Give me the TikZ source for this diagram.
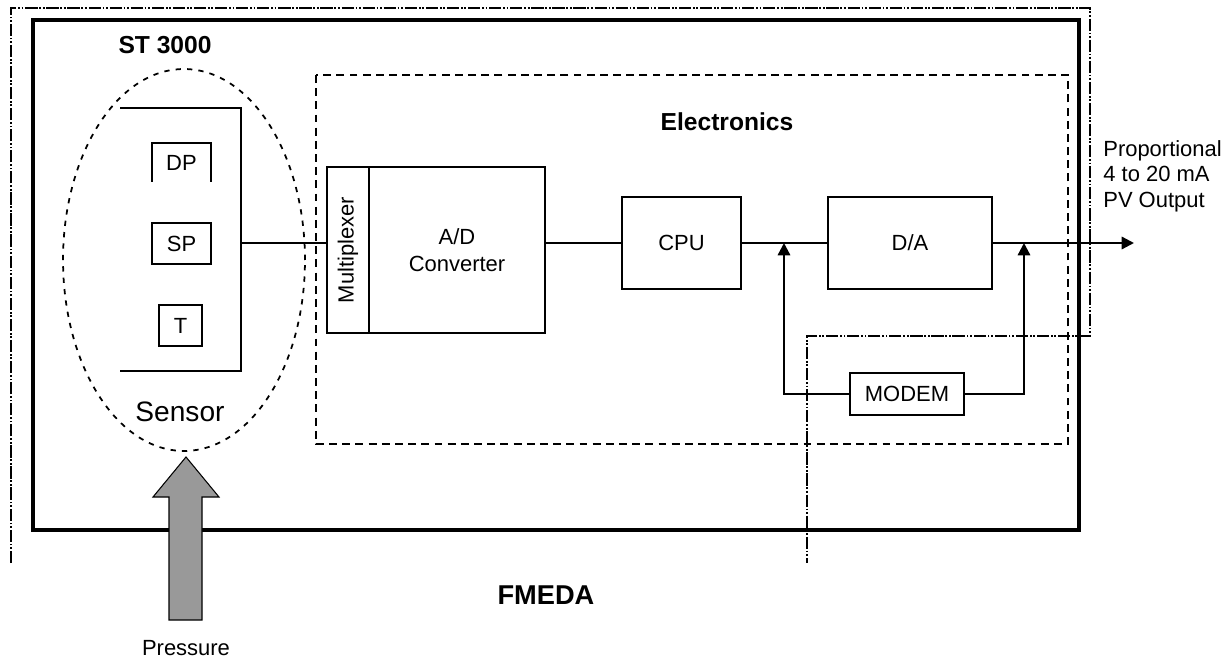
\documentclass[tikz,border=0pt]{standalone}
\usepackage{fontspec}
\setmainfont{Liberation Sans}
\usetikzlibrary{arrows.meta}

\begin{document}
\begin{tikzpicture}[x=0.02cm,y=-0.02cm,
  blockbox/.style={draw,line width=1.4pt,inner sep=0pt,font=\fontsize{12.5}{15}\selectfont},
  smallbox/.style={draw,line width=1.1pt,inner sep=0pt,font=\fontsize{12.5}{15}\selectfont},
  plaintext/.style={inner sep=0pt,font=\fontsize{12.5}{15}\selectfont},
  title/.style={inner sep=0pt,font=\bfseries\fontsize{14}{16}\selectfont},
  wire/.style={line width=1.3pt},
  arrowwire/.style={line width=1.3pt,-{Triangle[length=7pt,width=7pt]}},
  fmedaline/.style={line width=1.5pt,dash pattern=on 7pt off 1pt on 1pt off 1pt on 1pt off 1pt}]
  \useasboundingbox (0,0) rectangle (1225,662);

  % FMEDA boundary
  \draw[fmedaline] (11,563) -- (11,8) -- (1090,8) -- (1090,336) -- (807,336) -- (807,563);
  \node[inner sep=0pt,font=\bfseries\fontsize{15.5}{18}\selectfont] (fmeda-label) at (546,595) {FMEDA};

  % ST 3000 housing
  \draw[line width=1.8pt] (33,20) rectangle (1079,530);
  \node[title] (st-label) at (165,45) {ST 3000};

  % Electronics area
  \draw[line width=1.1pt,dash pattern=on 4.5pt off 3pt] (316,75) rectangle (1068,444);
  \node[title] (el-label) at (727,122) {Electronics};

  % Sensor
  \draw[line width=1pt,dash pattern=on 3pt off 3.5pt] (184,260) ellipse [x radius=2.42cm,y radius=3.82cm];
  \draw[line width=1.1pt] (120,108) -- (241,108) -- (241,371) -- (120,371);
  \draw[line width=1.1pt] (152,182) -- (152,143) -- (211,143) -- (211,182);
  \node[plaintext] (dp) at (181.5,163) {DP};
  \node[smallbox,minimum width=1.18cm,minimum height=0.82cm] (sp) at (181.5,243.5) {SP};
  \node[smallbox,minimum width=0.86cm,minimum height=0.82cm] (t) at (180.5,325.5) {T};
  \coordinate (brk) at (241,243);
  \node[inner sep=0pt,font=\fontsize{16}{18}\selectfont] (sensor-label) at (180,412) {Sensor};

  % Electronics chain
  \node[blockbox,minimum width=0.84cm,minimum height=3.32cm] (mux) at (348,250) {};
  \node[plaintext,rotate=90] (mux-label) at (mux) {Multiplexer};
  \node[blockbox,minimum width=3.52cm,minimum height=3.32cm,align=center] (adc) at (457,250) {A/D\\Converter};
  \node[blockbox,minimum width=2.38cm,minimum height=1.84cm] (cpu) at (681.5,243) {CPU};
  \node[blockbox,minimum width=3.28cm,minimum height=1.84cm] (dac) at (910,243) {D/A};
  \node[blockbox,minimum width=2.28cm,minimum height=0.84cm] (modem) at (907,394) {MODEM};
  \coordinate (j1) at (784,243);
  \coordinate (j2) at (1024,243);
  \coordinate (out) at (1134,243);

  \draw[wire] (brk) -- (brk -| mux.west);
  \draw[wire] (adc.east |- cpu.west) -- (cpu.west);
  \draw[wire] (cpu.east) -- (dac.west);
  \draw[arrowwire] (dac.east) -- (out);
  \draw[arrowwire] (modem.west) -| (j1);
  \draw[arrowwire] (modem.east) -| (j2);

  \node[plaintext,anchor=north west,align=left,font=\fontsize{12.5}{14.5}\selectfont] (out-label) at (1103,140) {Proportional\\4 to 20 mA\\PV Output};

  % Pressure input
  \draw[line width=0.6pt,fill=black!40] (169,620) -- (169,497) -- (153,497) -- (186,457) -- (219,497) -- (202,497) -- (202,620) -- cycle;
  \node[plaintext] (pressure-label) at (186,648) {Pressure};
\end{tikzpicture}
\end{document}
